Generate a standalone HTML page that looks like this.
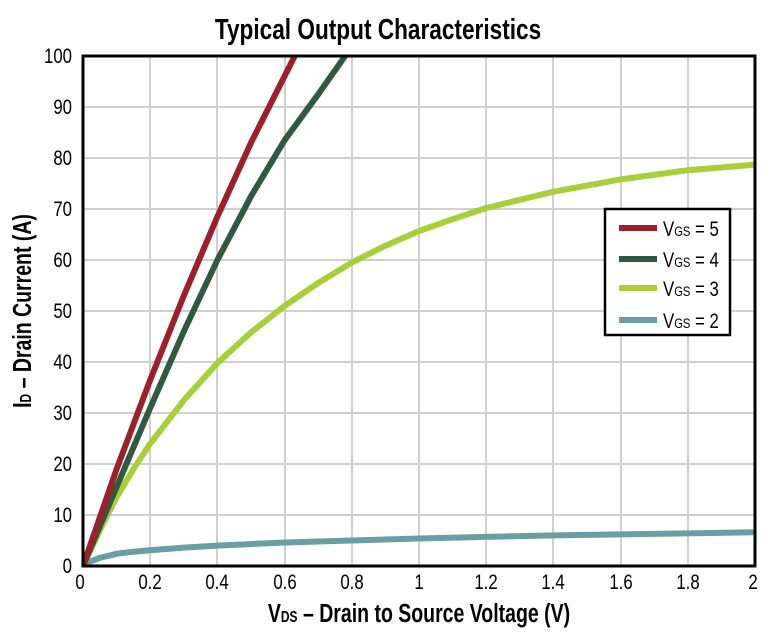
<!DOCTYPE html>
<html><head><meta charset="utf-8"><style>
html,body{margin:0;padding:0;background:#fff;}
svg{display:block;font-family:"Liberation Sans",sans-serif;}
</style></head><body>
<svg width="781" height="639" viewBox="0 0 781 639" xmlns="http://www.w3.org/2000/svg">
<defs><clipPath id="c"><rect x="83" y="56" width="672" height="510"/></clipPath></defs>
<g stroke="#d0d0d0" stroke-width="2">
<line x1="150" y1="56" x2="150" y2="566"/><line x1="217" y1="56" x2="217" y2="566"/>
<line x1="285" y1="56" x2="285" y2="566"/><line x1="352" y1="56" x2="352" y2="566"/>
<line x1="419" y1="56" x2="419" y2="566"/><line x1="486" y1="56" x2="486" y2="566"/>
<line x1="553" y1="56" x2="553" y2="566"/><line x1="621" y1="56" x2="621" y2="566"/>
<line x1="688" y1="56" x2="688" y2="566"/>
<line x1="83" y1="107" x2="755" y2="107"/><line x1="83" y1="158" x2="755" y2="158"/>
<line x1="83" y1="209" x2="755" y2="209"/><line x1="83" y1="260" x2="755" y2="260"/>
<line x1="83" y1="311" x2="755" y2="311"/><line x1="83" y1="362" x2="755" y2="362"/>
<line x1="83" y1="413" x2="755" y2="413"/><line x1="83" y1="464" x2="755" y2="464"/>
<line x1="83" y1="515" x2="755" y2="515"/>
</g>
<g clip-path="url(#c)" fill="none" stroke-width="6" stroke-linejoin="round" stroke-linecap="round">
<polyline stroke="#6a9ea6" points="83,566 89.7,561.9 99.8,557.8 116.6,553.8 133.4,551.7 150.2,550.2 183.8,547.6 217.4,545.6 284.6,542.5 351.8,540.5 419,538.5 486.2,536.9 553.4,535.4 620.6,534.4 687.8,533.4 755,532.3"/>
<polyline stroke="#a8cf3a" points="83,566 99.8,530.3 116.6,497.2 133.4,469.1 150.2,443.6 183.8,400.3 217.4,363 251,332.4 284.6,305.9 318.2,282.9 351.8,262.6 385.4,245.7 419,231 452.6,219.2 486.2,208 553.4,191.7 620.6,179.4 687.8,170.2 755,164.6"/>
<polyline stroke="#2f5a3f" points="83,566 116.6,487 150.2,407.9 183.8,331.4 217.4,260 251,196.3 284.6,140.2 318.2,94.3 345.1,56 352,46"/>
<polyline stroke="#9c1f2b" points="83,566 116.6,469.1 150.2,379.9 183.8,295.7 217.4,216.6 251,142.7 294.7,56 301,42"/>
</g>
<rect x="83" y="56" width="672" height="510" fill="none" stroke="#000" stroke-width="3"/>
<rect x="605" y="209" width="125" height="126" fill="#fff" stroke="#000" stroke-width="2.5"/>
<g stroke-width="6">
<line x1="619" y1="228" x2="657" y2="228" stroke="#9c1f2b"/>
<line x1="619" y1="259" x2="657" y2="259" stroke="#2f5a3f"/>
<line x1="619" y1="288" x2="657" y2="288" stroke="#a8cf3a"/>
<line x1="619" y1="320" x2="657" y2="320" stroke="#6a9ea6"/>
</g>
<g font-size="21" fill="#000">
<text transform="translate(663,236) scale(0.8,1)">V<tspan font-size="14">GS</tspan> = 5</text>
<text transform="translate(663,267) scale(0.8,1)">V<tspan font-size="14">GS</tspan> = 4</text>
<text transform="translate(663,296) scale(0.8,1)">V<tspan font-size="14">GS</tspan> = 3</text>
<text transform="translate(663,328) scale(0.8,1)">V<tspan font-size="14">GS</tspan> = 2</text>
</g>
<g font-size="21" fill="#000" text-anchor="end">
<text transform="translate(72,63) scale(0.8,1)">100</text>
<text transform="translate(72,114) scale(0.8,1)">90</text>
<text transform="translate(72,165) scale(0.8,1)">80</text>
<text transform="translate(72,216) scale(0.8,1)">70</text>
<text transform="translate(72,267) scale(0.8,1)">60</text>
<text transform="translate(72,318) scale(0.8,1)">50</text>
<text transform="translate(72,369) scale(0.8,1)">40</text>
<text transform="translate(72,420) scale(0.8,1)">30</text>
<text transform="translate(72,471) scale(0.8,1)">20</text>
<text transform="translate(72,522) scale(0.8,1)">10</text>
<text transform="translate(72,573) scale(0.8,1)">0</text>
</g>
<g font-size="21" fill="#000" text-anchor="middle">
<text transform="translate(80,589) scale(0.8,1)">0</text>
<text transform="translate(150,589) scale(0.8,1)">0.2</text>
<text transform="translate(217,589) scale(0.8,1)">0.4</text>
<text transform="translate(285,589) scale(0.8,1)">0.6</text>
<text transform="translate(352,589) scale(0.8,1)">0.8</text>
<text transform="translate(419,589) scale(0.8,1)">1</text>
<text transform="translate(486,589) scale(0.8,1)">1.2</text>
<text transform="translate(553,589) scale(0.8,1)">1.4</text>
<text transform="translate(621,589) scale(0.8,1)">1.6</text>
<text transform="translate(688,589) scale(0.8,1)">1.8</text>
<text transform="translate(753,589) scale(0.8,1)">2</text>
</g>
<text transform="translate(378,39) scale(0.78,1)" font-size="29" font-weight="bold" text-anchor="middle">Typical Output Characteristics</text>
<text transform="translate(419,622) scale(0.75,1)" font-size="26" font-weight="bold" text-anchor="middle">V<tspan font-size="16">DS</tspan> – Drain to Source Voltage (V)</text>
<text transform="translate(31,311) rotate(-90) scale(0.75,1)" font-size="26" font-weight="bold" text-anchor="middle">I<tspan font-size="16">D</tspan> – Drain Current (A)</text>
</svg>
</body></html>
